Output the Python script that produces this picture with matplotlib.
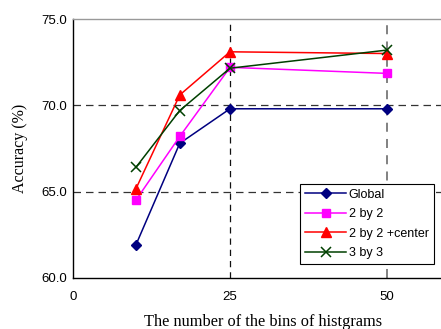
import matplotlib
matplotlib.use("Agg")
import matplotlib.pyplot as plt

# bins of histograms and accuracy (%) per method
bins = [10, 17, 25, 50]
acc_global = [61.9, 67.8, 69.8, 69.8]
acc_2by2 = [64.5, 68.2, 72.2, 71.85]
acc_2by2_center = [65.15, 70.6, 73.1, 73.0]
acc_3by3 = [66.4, 69.7, 72.15, 73.2]

fig = plt.figure(figsize=(4.41, 3.29), dpi=100)
ax = fig.add_axes([73 / 441, 51 / 329, 1 - 73 / 441, 259 / 329])

ax.plot(bins, acc_global, color='#000080', marker='D', markersize=5, lw=1.1, label='Global')
ax.plot(bins, acc_2by2, color='#FF00FF', marker='s', markersize=6, lw=1.1, label='2 by 2')
ax.plot(bins, acc_2by2_center, color='#FF0000', marker='^', markersize=7, lw=1.1, label='2 by 2 +center')
ax.plot(bins, acc_3by3, color='#004000', marker='x', markersize=7, mew=1.1, lw=1.1, label='3 by 3')

ax.set_xlim(0, 58.6)
ax.set_ylim(60, 75)
ax.set_xticks([0, 25, 50])
ax.set_yticks([60, 65, 70, 75])
ax.set_yticklabels(['60.0', '65.0', '70.0', '75.0'])

# dashed grid like the original
for v in [65, 70]:
    ax.axhline(v, color='#333333', ls=(0, (6, 4)), lw=0.9, zorder=0)
ax.axvline(25, color='#111111', ls=(0, (5, 4)), lw=0.9, zorder=0)
ax.axvline(50, color='#777777', ls=(0, (5, 4)), lw=1.3, zorder=0)

ax.spines['right'].set_visible(False)
ax.spines['top'].set_color('#999999')
ax.spines['top'].set_linewidth(1.0)
ax.spines['left'].set_linewidth(1.0)
ax.spines['bottom'].set_linewidth(1.0)

ax.tick_params(axis='x', length=0, pad=9, labelsize=9.5)
ax.tick_params(axis='y', length=0, pad=4, labelsize=9.5)
for t in ax.get_xticklabels() + ax.get_yticklabels():
    t.set_family('Liberation Sans')

ax.set_ylabel('Accuracy (%)', family='Liberation Serif', fontsize=11.5)
ax.yaxis.set_label_coords(28 / 441, 181 / 329, transform=fig.transFigure)
ax.set_xlabel('The number of the bins of histgrams', family='Liberation Serif', fontsize=11.8)
ax.xaxis.set_label_coords(263 / 441, 15 / 329, transform=fig.transFigure)

leg = ax.legend(loc='lower left', prop={'family': 'Liberation Sans', 'size': 9}, fancybox=False,
                framealpha=1, edgecolor='black', borderpad=0.4, labelspacing=0.6,
                handlelength=3.3, handletextpad=0.2, borderaxespad=0)
leg.get_frame().set_linewidth(0.8)
leg.set_bbox_to_anchor((300 / 441, 65 / 329), transform=fig.transFigure)

fig.savefig('out.png', dpi=100)
